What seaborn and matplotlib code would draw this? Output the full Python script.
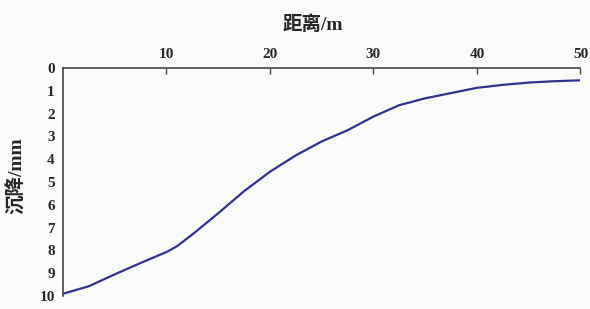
import seaborn as sns
import pandas as pd
import matplotlib.pyplot as plt

# distance (m) and settlement (mm)
distance = [0, 2.5, 5, 7.5, 10, 11, 12.5, 15, 17.5, 20, 22.5, 25, 27.5,
            30, 32.5, 35, 37.5, 40, 42.5, 45, 47.5, 50]
settlement = [9.9, 9.57, 9.05, 8.55, 8.07, 7.82, 7.3, 6.37, 5.4, 4.55, 3.83,
              3.22, 2.73, 2.13, 1.63, 1.33, 1.1, 0.87, 0.74, 0.64, 0.58, 0.54]
xtick_vals = [10, 20, 30, 40, 50]
ytick_vals = list(range(0, 11))

df = pd.DataFrame({"距离": distance, "沉降": settlement})

sns.set_style("white")
plt.rcParams['font.family'] = ['Liberation Serif', 'Noto Sans CJK SC', 'DejaVu Sans']

fig = plt.figure(figsize=(5.9, 3.09), dpi=100, facecolor="#fbfbfb")
ax = fig.add_axes([0.1068, 0.042, 0.877, 0.738])
ax.set_facecolor("#fbfbfb")

sns.lineplot(data=df, x="距离", y="沉降", ax=ax, color="#2e3192", linewidth=1.6)

ax.set_xlim(0, 50)
ax.set_ylim(10, 0)
ax.xaxis.tick_top()
ax.xaxis.set_label_position("top")
ax.set_xticks(xtick_vals)
ax.set_yticks(ytick_vals)

for side in ["right", "bottom"]:
    ax.spines[side].set_visible(False)
for side in ["top", "left"]:
    ax.spines[side].set_color("#444444")
    ax.spines[side].set_linewidth(1.2)

ax.tick_params(axis="both", direction="in", length=4, width=1, color="#444444",
               labelsize=11)
ax.tick_params(axis="x", pad=5)
ax.tick_params(axis="y", pad=6)
for lab in ax.get_xticklabels() + ax.get_yticklabels():
    lab.set_fontweight("bold")

ax.set_xlabel("距离/m", fontsize=14, fontweight="bold", va="center")
ax.set_ylabel("沉降/mm", fontsize=14, fontweight="bold", va="center")
ax.xaxis.set_label_coords(0.482, 1.189)
ax.yaxis.set_label_coords(-0.09, 0.526)

fig.savefig("out.png", dpi=100, facecolor=fig.get_facecolor())
